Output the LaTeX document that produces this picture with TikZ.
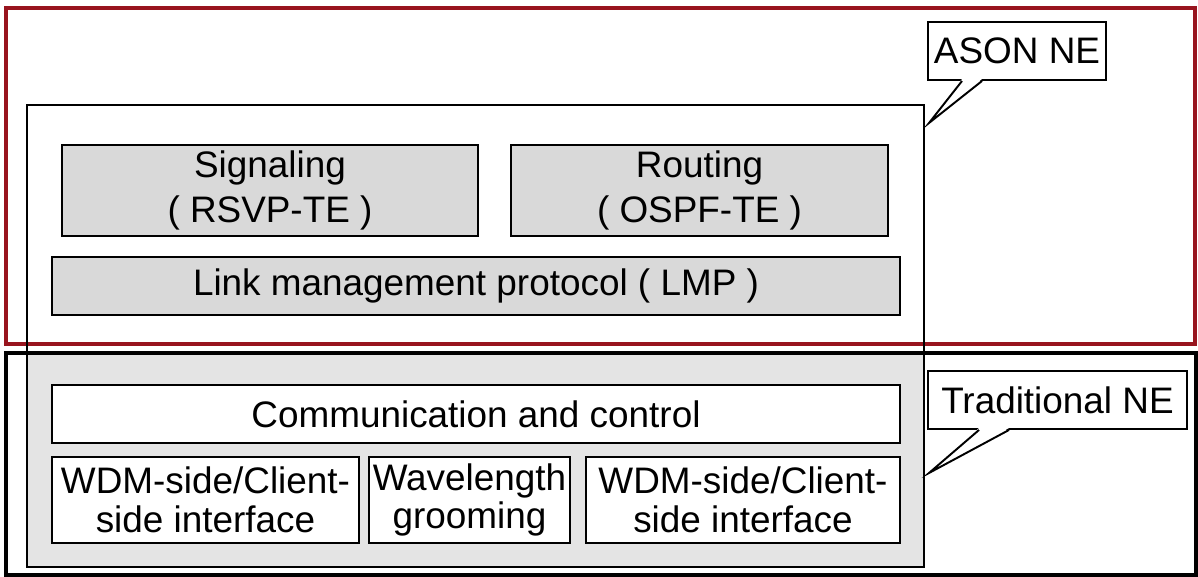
\documentclass[tikz,border=0pt]{standalone}
\usepackage{fontspec}
\setmainfont{Liberation Sans}
\usepackage{tikz}
\definecolor{asonred}{HTML}{98141E}
\definecolor{boxgray}{HTML}{D9D9D9}
\definecolor{lowgray}{HTML}{E4E4E4}
\tikzset{
	graybox/.style={draw, line width=1.1pt, fill=boxgray, inner sep=0pt, align=center, font=\fontsize{21}{25.5}\selectfont},
	whitebox/.style={draw, line width=1.1pt, fill=white, inner sep=0pt, align=center, font=\fontsize{21}{22}\selectfont},
	calloutbox/.style={draw, line width=1.1pt, fill=white, inner sep=0pt, font=\fontsize{21}{25}\selectfont},
	pointer/.style={line width=1.1pt, line join=miter}
}

\begin{document}
\begin{tikzpicture}[x=0.02cm, y=-0.02cm]
	\useasboundingbox (0,0) rectangle (1198,577);
	\fill[lowgray] (27,353) rectangle (924,567);
	\draw[asonred, line width=1.8pt] (6,8) rectangle (1195,344);
	\draw[line width=1.8pt] (6,353) rectangle (1196,575);
	\draw[line width=1.1pt] (27,105) rectangle (924,567);

	\node[graybox, minimum width=8.32cm, minimum height=1.82cm] (sig) at (270,190.5) {Signaling\\( RSVP-TE )};
	\node[graybox, minimum width=7.54cm, minimum height=1.82cm] (rout) at (699.5,190.5) {Routing\\( OSPF-TE )};
	\node[graybox, minimum width=16.96cm, minimum height=1.16cm] (lmp) at (476,286) {Link management protocol ( LMP )};

	\node[whitebox, minimum width=16.96cm, minimum height=1.16cm] (comm) at (476,414) {Communication and control};
	\node[whitebox, minimum width=6.14cm, minimum height=1.72cm] (wdma) at (205.5,500) {WDM-side/Client-\\side interface};
	\node[whitebox, minimum width=4.02cm, minimum height=1.72cm] (wave) at (469.5,500) {Wavelength\\grooming};
	\node[whitebox, minimum width=6.28cm, minimum height=1.72cm] (wdmb) at (743,500) {WDM-side/Client-\\side interface};

	\node[calloutbox, minimum width=3.56cm, minimum height=1.16cm] (asonlbl) at (1017,51) {ASON NE};
	\coordinate (asontip) at (929,123);
	\fill[white] ([xshift=0.7cm, yshift=0.04cm]asonlbl.south west) -- (asontip) -- ([xshift=1.1cm, yshift=0.04cm]asonlbl.south west) -- cycle;
	\draw[pointer] ([xshift=0.7cm]asonlbl.south west) -- (asontip) -- ([xshift=1.1cm]asonlbl.south west);

	\node[calloutbox, minimum width=5.18cm, minimum height=1.16cm] (tradlbl) at (1057.5,400) {Traditional NE};
	\coordinate (tradtip) at (929,473);
	\fill[white] ([xshift=1.04cm, yshift=0.04cm]tradlbl.south west) -- (tradtip) -- ([xshift=1.64cm, yshift=0.04cm]tradlbl.south west) -- cycle;
	\draw[pointer] ([xshift=1.04cm]tradlbl.south west) -- (tradtip) -- ([xshift=1.64cm]tradlbl.south west);
\end{tikzpicture}
\end{document}
